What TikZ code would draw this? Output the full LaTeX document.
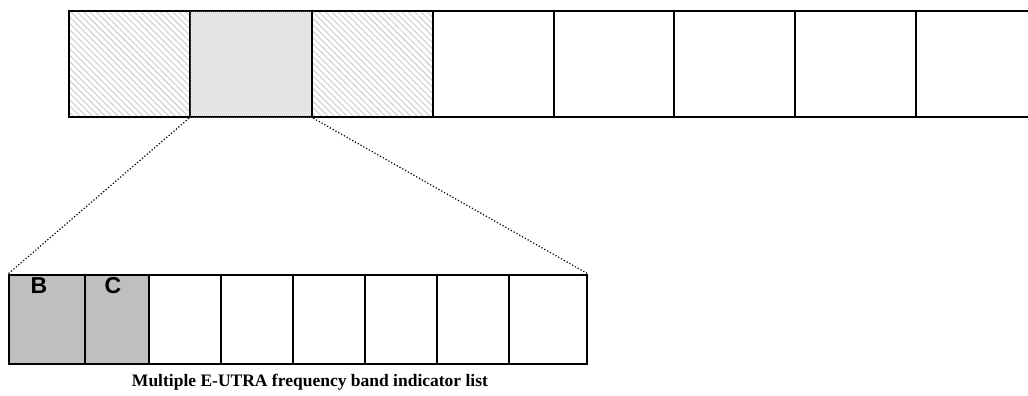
\documentclass[tikz,border=0pt]{standalone}
\usepackage{fontspec}
\setmainfont{Liberation Serif}
\setsansfont{Liberation Sans}
\usetikzlibrary{patterns,patterns.meta}
\tikzdeclarepattern{
  name=myhatch,
  type=uncolored,
  bottom left={(-.1pt,-.1pt)},
  top right={(4.6pt,4.6pt)},
  tile size={(4.5pt,4.5pt)},
  tile transformation={rotate=-45},
  code={\pgfsetlinewidth{1.1pt}\pgfpathmoveto{\pgfpoint{-.1pt}{2.25pt}}\pgfpathlineto{\pgfpoint{4.6pt}{2.25pt}}\pgfusepath{stroke}}
}
\tikzdeclarepattern{
  name=mydots,
  type=uncolored,
  bottom left={(0pt,0pt)},
  top right={(2pt,2pt)},
  tile size={(2pt,2pt)},
  code={\pgfpathcircle{\pgfpoint{1pt}{1pt}}{0.5pt}\pgfusepath{fill}}
}
\begin{document}
\begin{tikzpicture}[x=1pt,y=-1pt,
  cell/.style={draw=black, line width=2.2pt, inner sep=0pt, anchor=north west, minimum height=106pt},
  lowcell/.style={draw=black, line width=2.2pt, inner sep=0pt, anchor=north west, minimum height=89pt},
  hatchcell/.style={cell, pattern=myhatch, pattern color=gray!35},
  dotcell/.style={cell, fill=gray!18, postaction={pattern=mydots, pattern color=gray!45}},
  greycell/.style={lowcell, fill=gray!50},
  zoomline/.style={dotted, line width=1.2pt},
  letter/.style={font=\sffamily\bfseries\fontsize{23}{27}\selectfont}
]
\clip (0,0) rectangle (1028,396);
\fill[white] (0,0) rectangle (1028,396);
% top row
\node[hatchcell, minimum width=121pt] (t1) at (68,10) {};
\node[dotcell,   minimum width=122pt] (t2) at (189,10) {};
\node[hatchcell, minimum width=121pt] (t3) at (311,10) {};
\node[cell, minimum width=121pt] (t4) at (432,10) {};
\node[cell, minimum width=120pt] (t5) at (553,10) {};
\node[cell, minimum width=121pt] (t6) at (673,10) {};
\node[cell, minimum width=121pt] (t7) at (794,10) {};
\node[cell, minimum width=121pt] (t8) at (915,10) {};
% bottom row
\node[greycell, minimum width=76pt] (b1) at (8,274) {};
\node[greycell, minimum width=64pt] (b2) at (84,274) {};
\node[lowcell, minimum width=72pt] (b3) at (148,274) {};
\node[lowcell, minimum width=72pt] (b4) at (220,274) {};
\node[lowcell, minimum width=72pt] (b5) at (292,274) {};
\node[lowcell, minimum width=72pt] (b6) at (364,274) {};
\node[lowcell, minimum width=72pt] (b7) at (436,274) {};
\node[lowcell, minimum width=78pt] (b8) at (508,274) {};
\node[letter] (lb) at (39,286) {B};
\node[letter] (lc) at (113,286) {C};
% zoom lines
\draw[zoomline] (t2.south west) -- (b1.north west);
\draw[zoomline] (t2.south east) -- (b8.north east);
% caption
\node[font=\bfseries\fontsize{17.5}{21}\selectfont] (cap) at (310,382) {Multiple E-UTRA frequency band indicator list};
\end{tikzpicture}
\end{document}
